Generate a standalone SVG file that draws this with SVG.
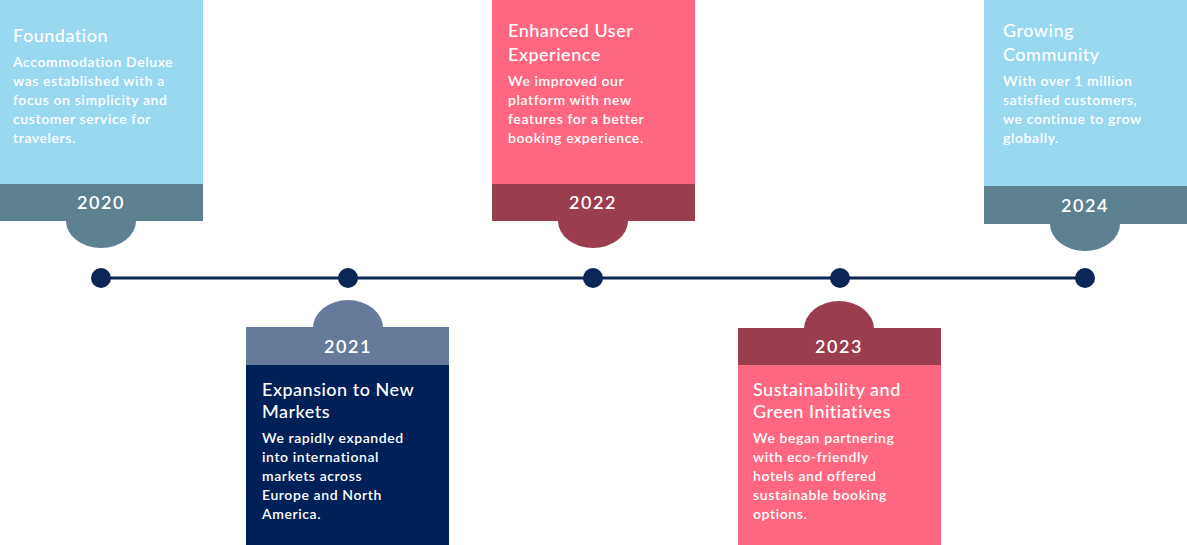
<svg xmlns="http://www.w3.org/2000/svg" width="1187" height="545" viewBox="0 0 1187 545">
<style>
text{font-family:Lato,"Open Sans",sans-serif;fill:#ffffff}
.t{font-size:18px;font-weight:500;letter-spacing:0.5px}
.b{font-size:14px;font-weight:600;letter-spacing:0.6px}
.y{font-size:18px;font-weight:600;letter-spacing:1.5px;text-anchor:middle}
.lb{fill:#98d8f1}.gb{fill:#5e8190}.nv{fill:#002157}.sl{fill:#677a9b}.pk{fill:#ff6680}.dr{fill:#993d4f}
</style>
<rect width="1187" height="545" fill="#ffffff"/>
<g id="connectors">
<line x1="101" y1="278" x2="1085" y2="278" stroke="#0c2657" stroke-width="3"/>
<circle cx="101" cy="278" r="10" fill="#0c2657"/>
<circle cx="348" cy="278" r="10" fill="#0c2657"/>
<circle cx="593" cy="278" r="10" fill="#0c2657"/>
<circle cx="840" cy="278" r="10" fill="#0c2657"/>
<circle cx="1085" cy="278" r="10" fill="#0c2657"/>
</g>
<g id="n2020">
<rect class="lb" x="0" y="0" width="203" height="184"/>
<rect class="gb" x="0" y="184" width="203" height="37"/>
<path class="gb" d="M66 221 A35 27 0 0 0 136 221 Z"/>
<text class="y" x="101" y="209">2020</text>
<text class="t" x="13" y="42">Foundation</text>
<text class="b"><tspan x="13" y="67">Accommodation Deluxe</tspan><tspan x="13" y="86">was established with a</tspan><tspan x="13" y="105">focus on simplicity and</tspan><tspan x="13" y="124">customer service for</tspan><tspan x="13" y="143">travelers.</tspan></text>
</g>
<g id="n2021">
<path class="sl" d="M313 328 A35 28 0 0 1 383 328 Z"/>
<rect class="sl" x="246" y="327" width="203" height="38"/>
<rect class="nv" x="246" y="365" width="203" height="180"/>
<text class="y" x="348" y="353">2021</text>
<text class="t"><tspan x="262" y="396">Expansion to New</tspan><tspan x="262" y="418">Markets</tspan></text>
<text class="b"><tspan x="262" y="443">We rapidly expanded</tspan><tspan x="262" y="462">into international</tspan><tspan x="262" y="481">markets across</tspan><tspan x="262" y="500">Europe and North</tspan><tspan x="262" y="519">America.</tspan></text>
</g>
<g id="n2022">
<rect class="pk" x="492" y="0" width="203" height="184"/>
<rect class="dr" x="492" y="184" width="203" height="37"/>
<path class="dr" d="M558 221 A35 27 0 0 0 628 221 Z"/>
<text class="y" x="593" y="209">2022</text>
<text class="t"><tspan x="508" y="37">Enhanced User</tspan><tspan x="508" y="61">Experience</tspan></text>
<text class="b"><tspan x="508" y="86">We improved our</tspan><tspan x="508" y="105">platform with new</tspan><tspan x="508" y="124">features for a better</tspan><tspan x="508" y="143">booking experience.</tspan></text>
</g>
<g id="n2023">
<path class="dr" d="M804 329 A35 28 0 0 1 874 329 Z"/>
<rect class="dr" x="738" y="328" width="203" height="37"/>
<rect class="pk" x="738" y="365" width="203" height="180"/>
<text class="y" x="839" y="353">2023</text>
<text class="t"><tspan x="753" y="396">Sustainability and</tspan><tspan x="753" y="418">Green Initiatives</tspan></text>
<text class="b"><tspan x="753" y="443">We began partnering</tspan><tspan x="753" y="462">with eco-friendly</tspan><tspan x="753" y="481">hotels and offered</tspan><tspan x="753" y="500">sustainable booking</tspan><tspan x="753" y="519">options.</tspan></text>
</g>
<g id="n2024">
<rect class="lb" x="984" y="0" width="203" height="186"/>
<rect class="gb" x="984" y="186" width="203" height="38"/>
<path class="gb" d="M1050 224 A35 27 0 0 0 1120 224 Z"/>
<text class="y" x="1085" y="212">2024</text>
<text class="t"><tspan x="1003" y="37">Growing</tspan><tspan x="1003" y="61">Community</tspan></text>
<text class="b"><tspan x="1003" y="86">With over 1 million</tspan><tspan x="1003" y="105">satisfied customers,</tspan><tspan x="1003" y="124">we continue to grow</tspan><tspan x="1003" y="143">globally.</tspan></text>
</g>
</svg>
